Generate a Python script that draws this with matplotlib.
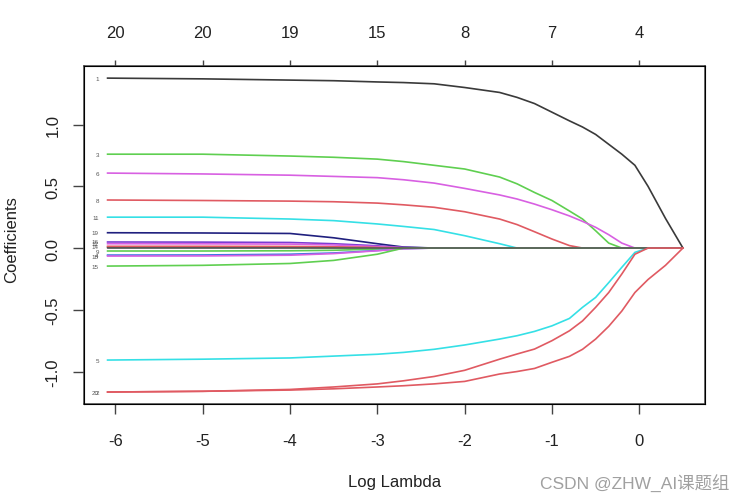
import numpy as np
import matplotlib.pyplot as plt

plt.rcParams['font.family'] = ['Liberation Sans', 'DejaVu Sans']

# log(lambda) grid of the path
loglam = [-6.09, -5.0, -4.0, -3.5, -3.0, -2.7, -2.35, -2.0, -1.6, -1.4, -1.2,
          -1.0, -0.8, -0.65, -0.5, -0.35, -0.2, -0.05, 0.1, 0.3, 0.5]

# coefficients (trailing values are zero)
v1 = [1.376, 1.37, 1.36, 1.355, 1.345, 1.34, 1.33, 1.30, 1.26, 1.22, 1.17,
      1.10, 1.03, 0.98, 0.92, 0.84, 0.76, 0.67, 0.50, 0.24, 0.0]
v3 = [0.76, 0.76, 0.745, 0.735, 0.72, 0.70, 0.67, 0.64, 0.575, 0.52, 0.45,
      0.385, 0.30, 0.235, 0.14, 0.04]
v6 = [0.607, 0.60, 0.59, 0.58, 0.57, 0.553, 0.526, 0.483, 0.43, 0.397, 0.356,
      0.31, 0.26, 0.216, 0.168, 0.108, 0.04]
v8 = [0.389, 0.385, 0.38, 0.375, 0.364, 0.35, 0.33, 0.294, 0.235, 0.19, 0.132,
      0.073, 0.02]
v11 = [0.25, 0.25, 0.235, 0.222, 0.195, 0.175, 0.15, 0.10, 0.035]
v19 = [0.124, 0.122, 0.118, 0.083, 0.035, 0.008]
v16 = [0.049, 0.048, 0.045, 0.035, 0.018, 0.005]
v12 = [0.035, 0.034, 0.032, 0.025, 0.012, 0.003]
v14 = [0.014, 0.014, 0.013, 0.010, 0.005, 0.001]
v13 = [0.005, 0.005, 0.005, 0.004, 0.003, 0.002, 0.001]
v9 = [-0.024, -0.024, -0.022, -0.018, -0.008, -0.002]
v4 = [-0.057, -0.056, -0.05, -0.04, -0.02, -0.005]
v18 = [-0.065, -0.064, -0.058, -0.045, -0.022, -0.006]
v15 = [-0.146, -0.14, -0.125, -0.10, -0.05]
v5 = [-0.907, -0.90, -0.89, -0.875, -0.86, -0.845, -0.82, -0.785, -0.737, -0.71,
      -0.675, -0.63, -0.57, -0.48, -0.40, -0.28, -0.156, -0.035]
v20 = [-1.166, -1.16, -1.145, -1.125, -1.10, -1.075, -1.04, -0.99, -0.90, -0.858,
       -0.818, -0.75, -0.67, -0.59, -0.48, -0.36, -0.21, -0.05]
v2 = [-1.166, -1.16, -1.15, -1.14, -1.125, -1.115, -1.10, -1.08, -1.02, -1.00,
      -0.975, -0.925, -0.877, -0.82, -0.737, -0.634, -0.51, -0.36, -0.255, -0.14, 0.0]
v7 = []

# number of nonzero coefs on top axis
df_at = [-6, -5, -4, -3, -2, -1, 0]
df_labels = ['20', '20', '19', '15', '8', '7', '4']

black = '#3a3a3a'
red = '#e05a62'
green = '#5fcf50'
cyan = '#35e0e6'
magenta = '#d860e2'
navy = '#20207e'
blue = '#3c78e0'
purple = '#7a3cd2'

# drawing order matters: the zero path sits over the near-zero ones
paths = [
    ('13', v13, black, False),
    ('1', v1, black, True),
    ('3', v3, green, True),
    ('6', v6, magenta, True),
    ('8', v8, red, True),
    ('11', v11, cyan, True),
    ('19', v19, navy, True),
    ('16', v16, purple, True),
    ('12', v12, magenta, True),
    ('14', v14, red, True),
    ('9', v9, green, True),
    ('4', v4, blue, True),
    ('18', v18, magenta, True),
    ('15', v15, green, True),
    ('5', v5, cyan, True),
    ('7', v7, '#5a5a5a', False),
    ('20', v20, red, True),
    ('2', v2, red, True),
]

n = len(loglam)

fig = plt.figure(figsize=(7.49, 5.02), dpi=100)
ax = fig.add_axes([0.1125, 0.1932, 0.8288, 0.6733])

for lab, v, col, show in paths:
    y = np.array(v + [0.0] * (n - len(v)))
    ax.plot(loglam, y, color=col, lw=1.2)
    if show:
        ax.text(loglam[0] - 0.1, y[0], lab, ha='right', va='center',
                fontsize=4.5, color='#555555')

ax.set_xlim(-6.357, 0.753)
ax.set_ylim(-1.263, 1.474)
ax.set_xticks(df_at)
ax.set_xticklabels([str(t) for t in df_at])
ax.set_yticks([-1.0, -0.5, 0.0, 0.5, 1.0])
ax.set_yticklabels(['-1.0', '-0.5', '0.0', '0.5', '1.0'], rotation=90, va='center')
ax.tick_params(axis='x', direction='out', length=7, width=1, color='#444444',
               pad=14, labelsize=12, labelcolor='#222222')
ax.tick_params(axis='y', direction='out', length=8, width=1, color='#444444',
               pad=9, labelsize=12, labelcolor='#222222')
for s in ax.spines.values():
    s.set_color('#444444')
    s.set_linewidth(1.1)

ax2 = ax.twiny()
ax2.set_xlim(ax.get_xlim())
ax2.set_xticks(df_at)
ax2.set_xticklabels(df_labels)
ax2.tick_params(axis='x', direction='out', length=4, width=1, color='#444444',
                pad=15, labelsize=12, labelcolor='#222222')

fig.text(0.527, 0.038, 'Log Lambda', ha='center', va='center', fontsize=12,
         color='#222222')
fig.text(0.016, 0.522, 'Coefficients', ha='center', va='center', fontsize=12,
         rotation=90, color='#222222')
fig.text(0.848, 0.036, 'CSDN @ZHW_AI课题组', ha='center', va='center',
         fontsize=12.5, color='#a0a0a0',
         family=['Liberation Sans', 'Noto Sans CJK SC'])

fig.savefig('out.png', dpi=100)
